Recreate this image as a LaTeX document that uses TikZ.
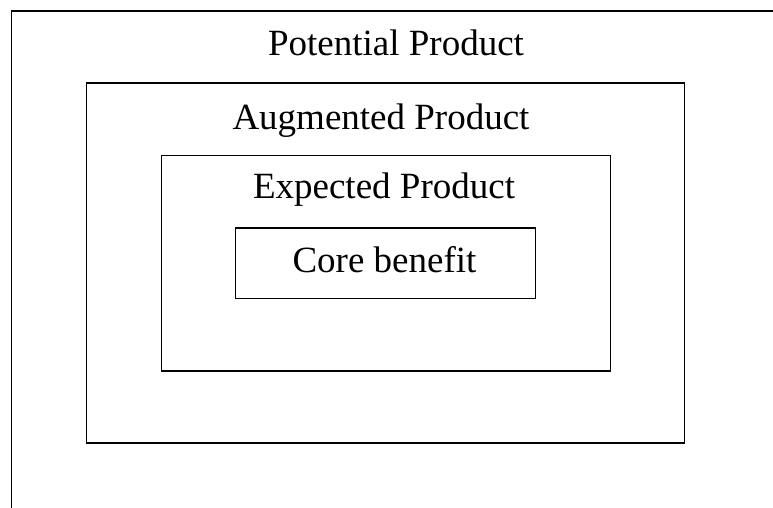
\documentclass[tikz,border=0pt]{standalone}
\usepackage{fontspec}
\setmainfont{Liberation Serif}
\begin{document}
\begin{tikzpicture}[x=1pt,y=-1pt,
  layer/.style={draw=black,line width=1.6pt,fill=none,inner sep=0pt,rectangle},
  lbl/.style={font=\fontsize{37}{40}\selectfont,inner sep=0pt,anchor=base}]
\useasboundingbox (0,0) rectangle (773,508);
\clip (0,0) rectangle (773,508);
\node[layer,minimum width=780pt,minimum height=520pt,anchor=north west] (potential) at (10.5,10.5) {};
\node[layer,minimum width=598pt,minimum height=360pt,anchor=north west] (augmented) at (85.8,82.2) {};
\node[layer,minimum width=449pt,minimum height=215.5pt,anchor=north west] (expected) at (160.5,154.5) {};
\node[layer,minimum width=300pt,minimum height=70.5pt,anchor=north west] (core) at (234.5,227.2) {};
\node[lbl] (tpot) at (396,56) {Potential Product};
\node[lbl] (taug) at (381,129.3) {Augmented Product};
\node[lbl] (texp) at (384,198) {Expected Product};
\node[lbl] (tcore) at (384.5,272) {Core benefit};
\end{tikzpicture}
\end{document}
